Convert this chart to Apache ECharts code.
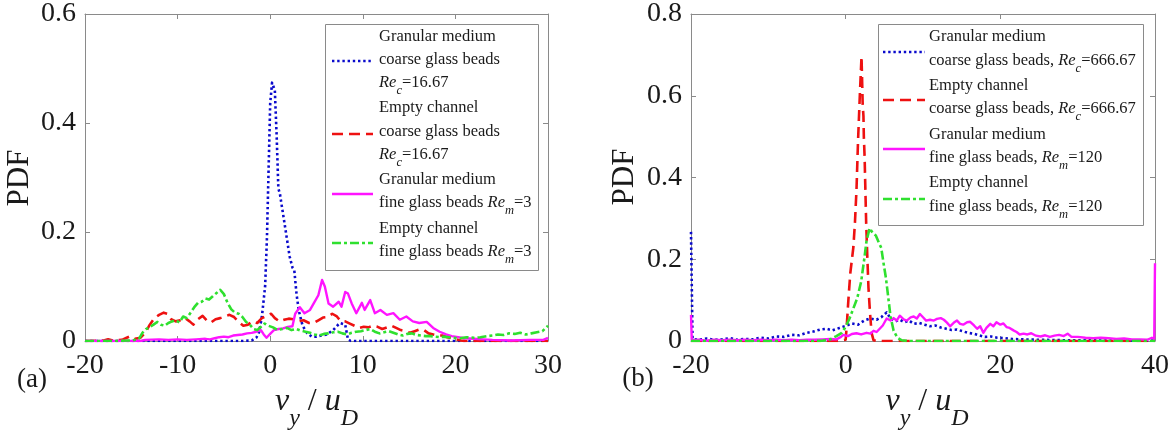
<!DOCTYPE html>
<html><head><meta charset="utf-8">
<script src="https://cdn.jsdelivr.net/npm/echarts@6/dist/echarts.min.js"></script>
<style>html,body{margin:0;padding:0;background:#fff}#c{width:1173px;height:439px}</style>
</head><body><div id="c"></div>
<script>
// ---------- DATA: panel (a) ----------
const xTicksA = [-20, -10, 0, 10, 20, 30];
const yTicksA = [0, 0.2, 0.4, 0.6];
const aGranCoarse = [[-20,0],[-15,0],[-10,0],[-5,0],[-3,0],[-2,0.001],[-1.5,0.006],[-1.2,0.016],[-0.9,0.044],[-0.55,0.1],[-0.35,0.19],[-0.18,0.31],[0,0.436],[0.2,0.474],[0.5,0.46],[0.7,0.375],[0.88,0.28],[1.05,0.27],[1.6,0.21],[2.1,0.155],[2.4,0.135],[2.6,0.13],[2.85,0.085],[3.1,0.055],[3.5,0.028],[4.0,0.014],[4.5,0.008],[5.0,0.008],[5.5,0.01],[6.1,0.012],[6.8,0.02],[7.5,0.033],[8.1,0.03],[8.4,0.003],[8.7,0],[12,0],[20,0],[25,0],[30,0]];
const aEmptyCoarse = [[-20,0],[-18,0.001],[-17.5,0.003],[-17,0.001],[-16,0.002],[-15.5,0.006],[-15.1,0.009],[-14.6,0.004],[-14,0.006],[-13.5,0.015],[-13,0.03],[-12.5,0.042],[-12,0.048],[-11.5,0.052],[-11.1,0.05],[-10.7,0.04],[-10.2,0.036],[-9.7,0.038],[-9.2,0.042],[-8.7,0.036],[-8.3,0.03],[-7.8,0.04],[-7.3,0.046],[-6.8,0.037],[-6.4,0.034],[-5.9,0.04],[-5.4,0.042],[-4.9,0.045],[-4.4,0.048],[-3.9,0.044],[-3.4,0.035],[-2.9,0.028],[-2.4,0.03],[-1.9,0.036],[-1.4,0.033],[-0.9,0.042],[-0.4,0.046],[0.1,0.05],[0.5,0.042],[1.0,0.036],[1.5,0.039],[2.0,0.041],[2.5,0.04],[3.0,0.036],[3.6,0.038],[4.2,0.033],[4.7,0.033],[5.2,0.038],[5.7,0.043],[6.2,0.044],[6.7,0.05],[7.2,0.045],[7.6,0.037],[8.1,0.036],[8.6,0.032],[9.1,0.028],[9.6,0.024],[10.1,0.026],[10.6,0.025],[11.1,0.028],[11.6,0.026],[12.1,0.022],[12.6,0.025],[13.1,0.028],[13.6,0.024],[14.1,0.02],[14.6,0.018],[15.1,0.015],[15.6,0.018],[16.1,0.021],[16.6,0.02],[17.1,0.014],[17.6,0.012],[18.1,0.01],[18.6,0.01],[19.1,0.007],[19.6,0.005],[20.1,0.003],[20.6,0.001],[21,0],[25,0],[30,0]];
const aGranFine = [[-20,0],[-14,0],[-13.5,0.002],[-12,0.003],[-11,0.002],[-10,0.003],[-9,0.002],[-8,0.003],[-7,0.004],[-6.5,0.003],[-6,0.005],[-5.5,0.007],[-5,0.008],[-4.5,0.007],[-4,0.01],[-3.5,0.011],[-3,0.012],[-2.5,0.014],[-2,0.015],[-1.5,0.017],[-1,0.02],[-0.7,0.012],[-0.4,0.006],[-0.2,0.005],[0.1,0.015],[0.4,0.02],[0.9,0.022],[1.4,0.023],[1.9,0.026],[2.4,0.027],[2.7,0.05],[3.2,0.062],[3.7,0.051],[4.3,0.057],[4.7,0.069],[5.2,0.084],[5.6,0.112],[5.9,0.1],[6.3,0.069],[6.8,0.063],[7.4,0.072],[7.7,0.063],[8.1,0.09],[8.4,0.087],[8.8,0.069],[9.3,0.051],[9.9,0.07],[10.2,0.057],[10.8,0.075],[11.3,0.051],[11.9,0.057],[12.6,0.048],[13.3,0.051],[14.0,0.039],[14.7,0.045],[15.4,0.036],[16.1,0.033],[16.9,0.035],[17.6,0.024],[18.3,0.017],[19.0,0.012],[19.6,0.009],[20.3,0.007],[21,0.005],[22,0.004],[23,0.003],[24,0.002],[26,0.001],[28,0.002],[29.5,0.002],[30,0.006]];
const aEmptyFine = [[-20,0],[-17,0],[-15,0.001],[-14.2,0.003],[-13.8,0.015],[-13.4,0.022],[-13,0.026],[-12.6,0.03],[-12.2,0.035],[-11.8,0.03],[-11.4,0.028],[-11,0.033],[-10.6,0.036],[-10.2,0.038],[-9.8,0.034],[-9.4,0.045],[-9,0.042],[-8.6,0.052],[-8.2,0.062],[-7.8,0.07],[-7.4,0.072],[-7,0.078],[-6.6,0.076],[-6.2,0.082],[-5.8,0.088],[-5.4,0.094],[-5,0.086],[-4.6,0.07],[-4.2,0.058],[-3.8,0.052],[-3.4,0.05],[-3,0.044],[-2.6,0.035],[-2.2,0.03],[-1.8,0.022],[-1.4,0.02],[-1,0.026],[-0.6,0.032],[-0.2,0.028],[0.3,0.025],[0.8,0.02],[1.3,0.022],[1.8,0.024],[2.3,0.02],[2.8,0.022],[3.3,0.019],[3.8,0.017],[4.3,0.015],[4.8,0.012],[5.3,0.01],[5.8,0.013],[6.3,0.014],[6.8,0.016],[7.3,0.017],[7.8,0.014],[8.3,0.012],[8.8,0.015],[9.3,0.017],[9.8,0.018],[10.3,0.02],[10.8,0.022],[11.3,0.017],[11.8,0.014],[12.3,0.016],[12.8,0.018],[13.3,0.015],[13.8,0.012],[14.3,0.01],[14.8,0.013],[15.3,0.014],[15.8,0.011],[16.3,0.01],[16.8,0.009],[17.3,0.009],[17.8,0.008],[18.3,0.007],[18.8,0.008],[19.3,0.007],[19.8,0.006],[20.5,0.005],[21.2,0.007],[22,0.006],[22.7,0.007],[23.4,0.009],[24,0.01],[24.6,0.012],[25.2,0.011],[25.8,0.014],[26.4,0.013],[27,0.015],[27.6,0.012],[28.2,0.014],[28.8,0.016],[29.4,0.018],[30,0.028]];

// ---------- DATA: panel (b) ----------
const xTicksB = [-20, 0, 20, 40];
const yTicksB = [0, 0.2, 0.4, 0.6, 0.8];
const bGranCoarse = [[-20,0.267],[-19.8,0.005],[-19,0.003],[-18,0.006],[-17,0.003],[-16,0.004],[-15,0.007],[-14,0.003],[-13,0.005],[-12,0.004],[-11,0.008],[-10,0.006],[-9,0.011],[-8,0.01],[-7,0.015],[-6,0.014],[-5,0.02],[-4.2,0.023],[-3.3,0.028],[-2.5,0.03],[-1.7,0.026],[-0.8,0.032],[0,0.037],[0.8,0.043],[1.6,0.04],[2.4,0.05],[3.2,0.055],[4.0,0.052],[4.6,0.058],[5.3,0.07],[5.8,0.055],[6.4,0.048],[7,0.052],[7.6,0.046],[8.2,0.05],[8.8,0.042],[9.5,0.044],[10.2,0.04],[10.9,0.036],[11.6,0.038],[12.3,0.033],[13,0.03],[13.7,0.027],[14.4,0.028],[15.1,0.024],[15.8,0.02],[16.5,0.018],[17.2,0.014],[18,0.01],[18.8,0.011],[19.6,0.008],[20.5,0.007],[21.5,0.005],[23,0.004],[25,0.003],[28,0.002],[31,0.002],[34,0.001],[37,0.001],[40,0.001]];
const bEmptyCoarse = [[-20,0],[-10,0],[-3,0],[-1,0],[0,0.003],[0.15,0.04],[0.35,0.1],[0.6,0.166],[1.0,0.23],[1.2,0.29],[1.4,0.37],[1.6,0.49],[1.85,0.61],[2.05,0.696],[2.15,0.62],[2.2,0.58],[2.3,0.55],[2.35,0.5],[2.45,0.45],[2.55,0.37],[2.65,0.29],[2.8,0.206],[2.95,0.13],[3.15,0.068],[3.35,0.02],[3.6,0.002],[4,0],[10,0],[20,0],[30,0],[40,0]];
const bGranFine = [[-20,0.064],[-19.9,0.002],[-19,0.003],[-18,0.001],[-17,0.003],[-16,0.002],[-15,0.003],[-14,0.002],[-13,0.003],[-12,0.002],[-11,0.003],[-10,0.002],[-9,0.003],[-8,0.002],[-7,0.003],[-6,0.002],[-5,0.003],[-4,0.003],[-3,0.004],[-2,0.005],[-1.2,0.004],[-0.6,0.01],[-0.3,0.015],[0.3,0.012],[0.8,0.017],[1.4,0.019],[2.0,0.016],[2.7,0.02],[3.2,0.018],[3.6,0.025],[4.0,0.022],[4.4,0.03],[4.8,0.038],[5.3,0.055],[5.8,0.05],[6.2,0.056],[6.6,0.05],[7.0,0.062],[7.5,0.053],[7.9,0.05],[8.4,0.058],[8.8,0.06],[9.2,0.055],[9.6,0.066],[10.0,0.058],[10.4,0.05],[10.9,0.052],[11.4,0.05],[11.8,0.054],[12.3,0.056],[12.7,0.052],[13.1,0.045],[13.5,0.036],[14.0,0.045],[14.4,0.05],[14.8,0.042],[15.2,0.04],[15.7,0.046],[16.1,0.047],[16.6,0.038],[17.0,0.03],[17.4,0.036],[17.8,0.02],[18.2,0.032],[18.7,0.042],[19.1,0.036],[19.5,0.046],[20.0,0.04],[20.4,0.043],[20.8,0.034],[21.2,0.032],[21.7,0.026],[22.1,0.022],[22.5,0.016],[23.0,0.018],[23.5,0.016],[24,0.019],[24.6,0.013],[25.2,0.011],[25.8,0.014],[26.4,0.01],[27,0.013],[27.6,0.015],[28.2,0.012],[28.7,0.018],[29.2,0.01],[30,0.01],[31,0.008],[32,0.007],[33,0.008],[34,0.007],[35,0.005],[36,0.006],[37,0.004],[38,0.004],[39,0.003],[39.6,0.008],[39.9,0.005],[40,0.19]];
const bEmptyFine = [[-20,0],[-10,0],[-4,0],[-3,0.001],[-2,0.004],[-1.2,0.012],[-0.5,0.02],[0,0.035],[0.5,0.055],[1,0.08],[1.5,0.105],[2,0.145],[2.4,0.2],[2.7,0.245],[3.1,0.276],[3.5,0.264],[3.9,0.258],[4.3,0.24],[4.6,0.228],[4.9,0.19],[5.2,0.155],[5.5,0.108],[5.8,0.06],[6.2,0.025],[6.7,0.008],[7.2,0.002],[8,0],[20,0],[30,0],[40,0]];

// ---------- TEXT ----------
// segments: [text, kind] kind n=normal, i=italic, s=italic subscript
const legendA = [
  [[["Granular medium","n"]],[["coarse glass beads","n"]],[["Re","i"],["c","s"],["=16.67","n"]]],
  [[["Empty channel","n"]],[["coarse glass beads","n"]],[["Re","i"],["c","s"],["=16.67","n"]]],
  [[["Granular medium","n"]],[["fine glass beads ","n"],["Re","i"],["m","s"],["=3","n"]]],
  [[["Empty channel","n"]],[["fine glass beads ","n"],["Re","i"],["m","s"],["=3","n"]]]
];
const legendB = [
  [[["Granular medium","n"]],[["coarse glass beads, ","n"],["Re","i"],["c","s"],["=666.67","n"]]],
  [[["Empty channel","n"]],[["coarse glass beads, ","n"],["Re","i"],["c","s"],["=666.67","n"]]],
  [[["Granular medium","n"]],[["fine glass beads, ","n"],["Re","i"],["m","s"],["=120","n"]]],
  [[["Empty channel","n"]],[["fine glass beads, ","n"],["Re","i"],["m","s"],["=120","n"]]]
];
const xTitle = [["v","i"],["y","s"],[" / ","n"],["u","i"],["D","s"]];
const yTitle = "PDF";
const panelTags = ["(a)", "(b)"];

// ---------- STYLE ----------
const FONT = '"Liberation Serif", "Times New Roman", serif';
const AX = '#8a8a8a', TXT = '#1a1a1a';
const styles = [
  {color:'#0a0acc', type:[2.4,2.8], width:2.6, cap:'butt'},
  {color:'#ee1111', type:[11,6], width:2.6, cap:'butt'},
  {color:'#ff14ff', type:'solid', width:2.4, cap:'butt'},
  {color:'#2fe02f', type:[9,3,3,3], width:2.6, cap:'butt'}
];

const cv = document.createElement('canvas').getContext('2d');
function segTexts(x0, yc, segs, size, subSize, subDy, align) {
  const parts = [];
  let w = 0;
  for (const [t, k] of segs) {
    const fs = k === 's' ? subSize : size;
    const font = (k === 'n' ? 'normal' : 'italic') + ' ' + fs + 'px "Liberation Serif"';
    cv.font = font;
    const tw = cv.measureText(t).width;
    parts.push({t, k, fs, tw});
    w += tw;
  }
  let x = align === 'center' ? x0 - w / 2 : x0;
  const out = [];
  for (const p of parts) {
    out.push({type:'text', x: x, y: yc + (p.k === 's' ? subDy : 0), z: 110,
      style:{text:p.t, fontFamily:FONT, fontSize:p.fs, fontStyle:p.k==='n'?'normal':'italic',
             fill:TXT, align:'left', verticalAlign:'middle'}});
    x += p.tw;
  }
  return out;
}

function legendBox(box, lineX0, lineX1, textX, entries, sampleYs, rowYs) {
  const g = [];
  g.push({type:'rect', z:100, shape:{x:box[0]+0.5, y:box[1]+0.5, width:box[2], height:box[3]},
          style:{fill:'#fff', stroke:AX, lineWidth:1}});
  entries.forEach((rows, i) => {
    const st = styles[i];
    g.push({type:'line', z:105, shape:{x1:lineX0, y1:sampleYs[i], x2:lineX1, y2:sampleYs[i]},
            style:{stroke:st.color, lineWidth:st.width, lineDash: st.type === 'solid' ? null : st.type}});
    rows.forEach((segs, r) => {
      g.push(...segTexts(textX, rowYs[i][r], segs, 16.5, 12.5, 8, 'left'));
    });
  });
  return g;
}

const names = ['Granular medium coarse', 'Empty channel coarse', 'Granular medium fine', 'Empty channel fine'];
function mk(data, i, xi, yi) {
  const st = styles[i];
  return {type:'line', name:names[i], data, xAxisIndex:xi, yAxisIndex:yi, showSymbol:false, symbol:'none',
    clip:true, lineStyle:{color:st.color, width:st.width, type:st.type, cap:st.cap, join:'round'}, z:3, silent:true};
}

function xAx(grid, min, max, itv, top) {
  return {type:'value', gridIndex:grid, min, max, interval:itv, position: top ? 'top' : 'bottom',
    axisLine:{show:true, onZero:false, lineStyle:{color:AX, width:1}},
    axisTick:{show:true, inside:true, length:5, lineStyle:{color:AX}},
    axisLabel:{show:!top, margin:11, fontFamily:FONT, fontSize:28, color:TXT, showMinLabel:true, showMaxLabel:true},
    splitLine:{show:false}};
}
function yAx(grid, min, max, itv, right) {
  return {type:'value', gridIndex:grid, min, max, interval:itv, position: right ? 'right' : 'left',
    axisLine:{show:true, onZero:false, lineStyle:{color:AX, width:1}},
    axisTick:{show:true, inside:true, length:5, lineStyle:{color:AX}},
    axisLabel:{show:!right, margin:9, fontFamily:FONT, fontSize:28, color:TXT, showMinLabel:true, showMaxLabel:true},
    splitLine:{show:false}};
}

const graphics = [];
graphics.push(...legendBox([325,24,213,246], 332, 373, 379, legendA, [61,134,194,243],
  [[37,60,83],[108,132,155],[180,203],[229,252]]));
graphics.push(...legendBox([878,24,265,201], 883, 925, 929, legendB, [52,100,149,199],
  [[37,61],[86,109],[135,158],[183,207]]));
graphics.push(...segTexts(316.5, 402, xTitle, 32, 24, 17, 'center'));
graphics.push(...segTexts(927, 402, xTitle, 32, 24, 17, 'center'));
graphics.push({type:'text', x:20, y:178, rotation:Math.PI/2, z:110,
  style:{text:yTitle, fontFamily:FONT, fontSize:31, fill:TXT, align:'center', verticalAlign:'middle'}});
graphics.push({type:'text', x:625, y:177, rotation:Math.PI/2, z:110,
  style:{text:yTitle, fontFamily:FONT, fontSize:31, fill:TXT, align:'center', verticalAlign:'middle'}});
graphics.push({type:'text', x:32, y:380, z:110,
  style:{text:panelTags[0], fontFamily:FONT, fontSize:27, fill:TXT, align:'center', verticalAlign:'middle'}});
graphics.push({type:'text', x:638, y:379, z:110,
  style:{text:panelTags[1], fontFamily:FONT, fontSize:27, fill:TXT, align:'center', verticalAlign:'middle'}});

const chart = echarts.init(document.getElementById('c'), null, {renderer:'canvas'});
chart.setOption({
  animation:false,
  backgroundColor:'#fff',
  grid:[{left:85, top:14, width:463, height:327}, {left:691, top:14, width:464, height:327}],
  xAxis:[xAx(0,xTicksA[0],xTicksA[xTicksA.length-1],10,false), xAx(0,-20,30,10,true),
         xAx(1,xTicksB[0],xTicksB[xTicksB.length-1],20,false), xAx(1,-20,40,20,true)],
  yAxis:[yAx(0,yTicksA[0],yTicksA[yTicksA.length-1],0.2,false), yAx(0,0,0.6,0.2,true),
         yAx(1,yTicksB[0],yTicksB[yTicksB.length-1],0.2,false), yAx(1,0,0.8,0.2,true)],
  series:[
    mk(aGranCoarse,0,0,0), mk(aEmptyCoarse,1,0,0), mk(aGranFine,2,0,0), mk(aEmptyFine,3,0,0),
    mk(bGranCoarse,0,2,2), mk(bEmptyCoarse,1,2,2), mk(bGranFine,2,2,2), mk(bEmptyFine,3,2,2)
  ],
  graphic: graphics
});
</script></body></html>
